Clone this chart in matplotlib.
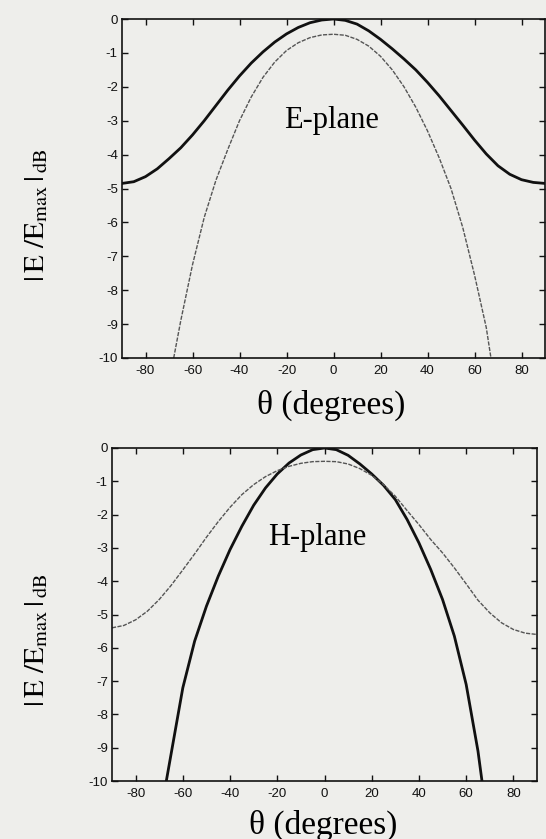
import matplotlib
matplotlib.use("Agg")
import matplotlib.pyplot as plt

plt.rcParams['mathtext.fontset'] = 'stix'
plt.rcParams['axes.unicode_minus'] = False

# ---------------- data ----------------
theta_full = [-90, -85, -80, -75, -70, -65, -60, -55, -50, -45, -40, -35, -30, -25, -20, -15, -10, -5,
              0, 5, 10, 15, 20, 25, 30, 35, 40, 45, 50, 55, 60, 65, 70, 75, 80, 85, 90]

e_solid = [-4.85, -4.8, -4.65, -4.42, -4.12, -3.8, -3.42, -3.0, -2.55, -2.1, -1.68, -1.3, -0.97, -0.68,
           -0.44, -0.25, -0.11, -0.03, 0.0, -0.04, -0.15, -0.35, -0.6, -0.88, -1.18, -1.5, -1.87, -2.27,
           -2.7, -3.13, -3.57, -3.98, -4.33, -4.58, -4.74, -4.82, -4.85]

theta_e_dash = [-68, -65, -60, -55, -50, -45, -40, -35, -30, -25, -20, -15, -10, -5,
                0, 5, 10, 15, 20, 25, 30, 35, 40, 45, 50, 55, 60, 65, 67]
e_dash = [-10.0, -8.9, -7.25, -5.85, -4.75, -3.85, -3.0, -2.3, -1.72, -1.27, -0.93, -0.7, -0.55, -0.47,
          -0.45, -0.48, -0.6, -0.8, -1.1, -1.5, -2.0, -2.6, -3.3, -4.1, -5.0, -6.15, -7.55, -9.1, -10.0]

theta_h_solid = [-67, -65, -60, -55, -50, -45, -40, -35, -30, -25, -20, -15, -10, -5,
                 0, 5, 10, 15, 20, 25, 30, 35, 40, 45, 50, 55, 60, 65, 66.7]
h_solid = [-10.0, -9.2, -7.2, -5.8, -4.75, -3.85, -3.05, -2.35, -1.72, -1.2, -0.78, -0.45, -0.21, -0.05,
           0.0, -0.05, -0.22, -0.48, -0.78, -1.12, -1.55, -2.15, -2.85, -3.65, -4.55, -5.65, -7.1, -9.1, -10.0]

h_dash = [-5.4, -5.33, -5.16, -4.9, -4.55, -4.13, -3.66, -3.18, -2.68, -2.21, -1.78, -1.4, -1.1, -0.86,
          -0.68, -0.55, -0.46, -0.41, -0.4, -0.41, -0.48, -0.62, -0.82, -1.1, -1.45, -1.88, -2.3, -2.75,
          -3.15, -3.6, -4.08, -4.57, -4.95, -5.25, -5.45, -5.56, -5.6]

x_ticks = [-80, -60, -40, -20, 0, 20, 40, 60, 80]
y_ticks = [0, -1, -2, -3, -4, -5, -6, -7, -8, -9, -10]
plane_labels = ['E-plane', 'H-plane']

# ---------------- figure ----------------
W, H = 546, 839
bg = '#eeeeeb'
fig = plt.figure(figsize=(W/100, H/100), dpi=100, facecolor=bg)

ax1 = fig.add_axes([122/W, 1-358/H, (545-122)/W, (358-19)/H])
ax2 = fig.add_axes([112/W, 1-781/H, (537-112)/W, (781-448)/H])

serif = ['Liberation Serif', 'DejaVu Serif']
sans = ['Liberation Sans', 'DejaVu Sans']
ylab = r'$|\,\mathrm{E}\ /\mathrm{E}_{\mathrm{max}}\,|_{\,\mathrm{dB}}$'

def style(ax):
    ax.set_facecolor(bg)
    ax.set_xlim(-90, 90)
    ax.set_ylim(-10, 0)
    ax.set_xticks(x_ticks)
    ax.set_xticklabels([str(v) for v in x_ticks])
    ax.set_yticks(y_ticks)
    ax.set_yticklabels([str(v) for v in y_ticks])
    ax.tick_params(direction='in', length=4, width=1, top=True, right=True,
                   labelsize=9.5, colors='#111111')
    ax.tick_params(axis='x', pad=5)
    ax.tick_params(axis='y', pad=3)
    for lab in ax.get_xticklabels() + ax.get_yticklabels():
        lab.set_family(sans)
    for s in ax.spines.values():
        s.set_linewidth(1.2)
        s.set_color('#111111')

# top: E-plane
ax1.plot(theta_full, e_solid, color='#111111', lw=2.0)
ax1.plot(theta_e_dash, e_dash, color='#555555', lw=1.0, ls=(0, (3, 1)))
style(ax1)
ax1.text(-1, -3.0, plane_labels[0], family=serif, fontsize=22, ha='center', va='center')

# bottom: H-plane
ax2.plot(theta_h_solid, h_solid, color='#111111', lw=2.0)
ax2.plot(theta_full, h_dash, color='#555555', lw=1.0, ls=(0, (3, 1)))
style(ax2)
ax2.text(-3, -2.7, plane_labels[1], family=serif, fontsize=22, ha='center', va='center')

# axis labels
fig.text(331/W, 1-405/H, 'θ (degrees)', family=serif, fontsize=24, ha='center', va='center')
fig.text(323/W, 1-825/H, 'θ (degrees)', family=serif, fontsize=24, ha='center', va='center')
fig.text(36/W, 1-215/H, ylab, fontsize=21, rotation=90, ha='center', va='center')
fig.text(36/W, 1-640/H, ylab, fontsize=21, rotation=90, ha='center', va='center')

fig.savefig('out.png', dpi=100, facecolor=bg)
